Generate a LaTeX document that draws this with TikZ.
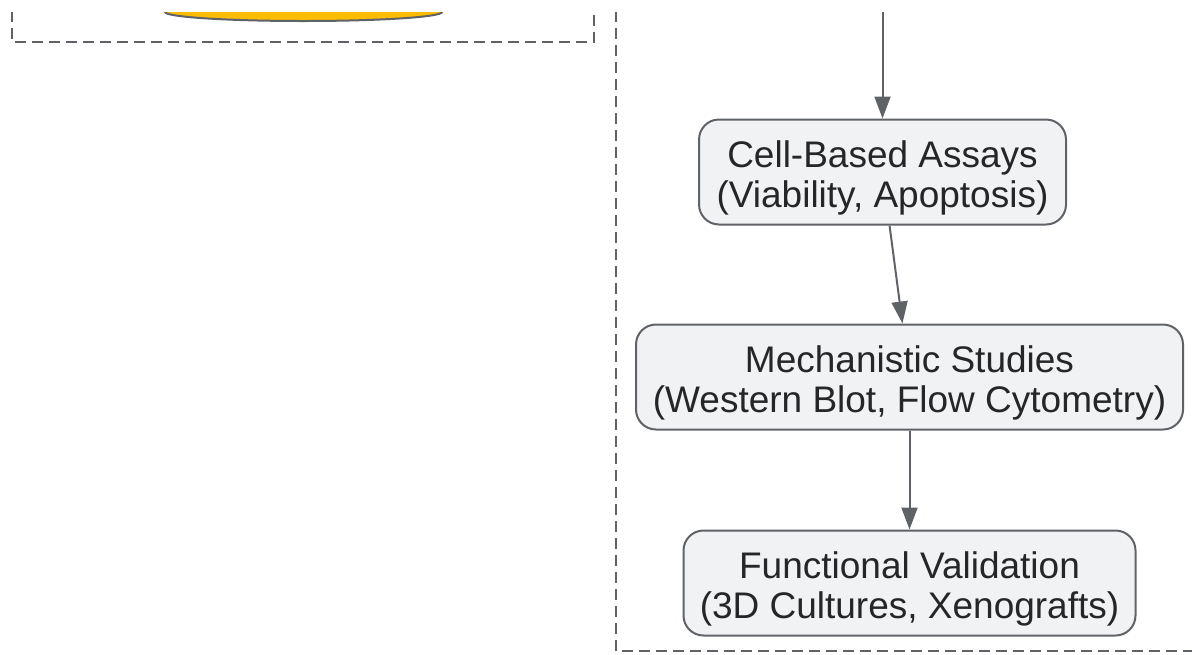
\documentclass[tikz,border=0pt]{standalone}
\usepackage{fontspec}
\setmainfont{Liberation Sans}
\usetikzlibrary{arrows.meta, positioning}
\definecolor{edgecolor}{RGB}{95,99,104}
\definecolor{boxfill}{RGB}{241,242,244}
\definecolor{textcolor}{RGB}{38,38,40}
\definecolor{compoundcolor}{RGB}{251,188,4}

\begin{document}
\begin{tikzpicture}[x=0.5pt, y=0.5pt,
    % Styles
    assay box/.style={draw=edgecolor, fill=boxfill, line width=1pt, rounded corners=10pt,
        align=center, text=textcolor, font=\fontsize{18.5}{20}\selectfont,
        text height=39pt, minimum height=52.5pt, inner sep=0},
    flow arrow/.style={-{Triangle[length=11pt, width=8pt]}, draw=edgecolor, line width=1pt},
    group frame/.style={draw=edgecolor, line width=1pt, dash pattern=on 5.5pt off 3pt},
]
    \useasboundingbox (0,0) rectangle (1192,-654);

    \begin{scope}
    \clip (0,-12) rectangle (1192,-654);

    % === Screening group (cut off at the top) ===
    \draw[group frame] (12,40) rectangle (594,-42);
    \filldraw[fill=compoundcolor, draw=edgecolor, line width=1pt]
        (303.5,-12) ellipse [x radius=69.25pt, y radius=4.5pt];

    % === Validation group ===
    \draw[group frame] (615.5,40) rectangle (1250,-651);
    \end{scope}

    % Validation steps, each below the previous one
    \node[assay box, minimum width=183.5pt] (cell-assay) at (882.5,-172)
        {Cell-Based Assays\\(Viability, Apoptosis)};
    \node[assay box, minimum width=273.5pt, below=49pt of cell-assay, xshift=13.5pt] (mech-study)
        {Mechanistic Studies\\(Western Blot, Flow Cytometry)};
    \node[assay box, minimum width=226pt, below=49.5pt of mech-study] (func-valid)
        {Functional Validation\\(3D Cultures, Xenografts)};

    % Incoming edge from above the crop
    \coordinate (feed-in) at (882.5,-12);

    % Connectors
    \draw[flow arrow] (feed-in) -- (cell-assay);
    \draw[flow arrow] (cell-assay) -- (mech-study);
    \draw[flow arrow] (mech-study) -- (func-valid);
\end{tikzpicture}
\end{document}
